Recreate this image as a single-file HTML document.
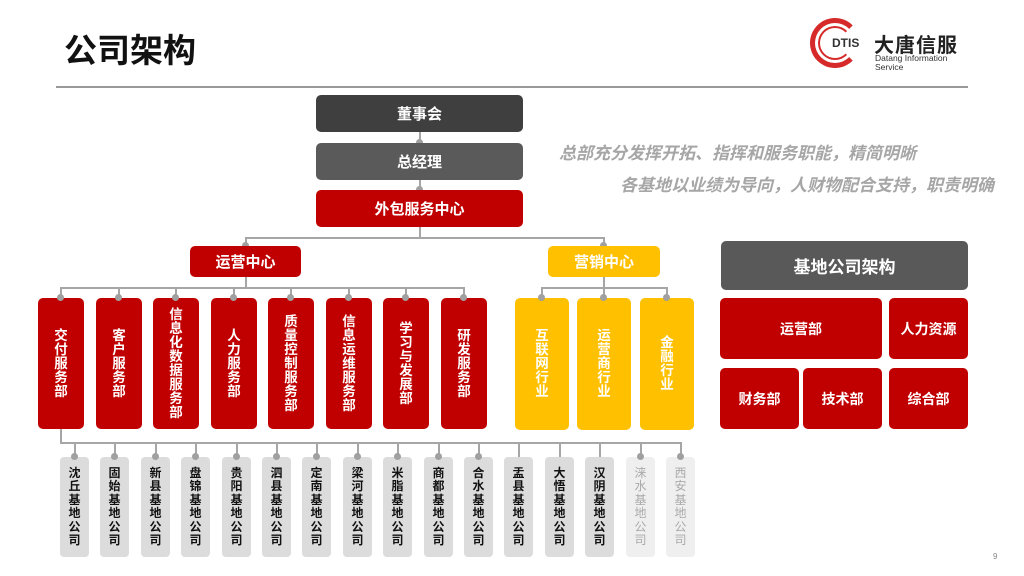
<!DOCTYPE html>
<html><head><meta charset="utf-8"><style>
body{margin:0;width:1024px;height:576px;background:#fff;position:relative;overflow:hidden;font-family:"Liberation Sans","Noto Sans CJK SC",sans-serif}
div{position:absolute;box-sizing:border-box}
.b{display:flex;align-items:center;justify-content:center;color:#fff;font-weight:bold;border-radius:5px;text-align:center}
.v{line-height:14px;font-size:13.5px}
.s{line-height:13.5px;font-size:12px;color:#111;background:#dcdcdc;border-radius:4px;font-weight:bold}
.s.l{background:#efefef;color:#aaa;font-weight:normal}
.h{height:2px;background:#a6a6a6}
.vl{width:2px;background:#a6a6a6}
.d{width:7px;height:7px;border-radius:50%;background:#a0a0a0}
.r{background:#c00000}.y{background:#ffc000}
</style></head><body>
<div style="left:64px;top:31px;font-size:33px;font-weight:bold;color:#111;line-height:40px">公司架构</div>
<div class="h" style="left:56px;top:86px;width:912px;height:1.5px;background:#999"></div>
<!-- logo -->
<div style="left:810px;top:18px;width:50px;height:50px;border-radius:50%;border:5px solid #d62a2a;border-right-color:transparent"></div>
<div style="left:818px;top:26px;width:34px;height:34px;border-radius:50%;border:2px solid #d62a2a;border-right-color:transparent"></div>
<div style="left:832px;top:36px;font-size:12px;font-weight:bold;color:#333">DTIS</div>
<div style="left:874px;top:29px;font-size:20px;font-weight:bold;color:#222;letter-spacing:1px">大唐信服</div>
<div style="left:875px;top:54px;font-size:8.5px;color:#333;line-height:9px">Datang Information<br>Service</div>

<div class="b" style="left:316px;top:95px;width:207px;height:37px;background:#3f3f3f;font-size:15px">董事会</div>
<div class="vl" style="left:419px;top:132px;height:11px"></div>
<div class="d" style="left:416px;top:139px"></div>
<div class="b" style="left:316px;top:143px;width:207px;height:37px;background:#5a5a5a;font-size:15px">总经理</div>
<div class="vl" style="left:419px;top:180px;height:10px"></div>
<div class="d" style="left:416px;top:186px"></div>
<div class="b r" style="left:316px;top:190px;width:207px;height:37px;font-size:15px">外包服务中心</div>
<div class="vl" style="left:419px;top:227px;height:11px"></div>
<div class="h" style="left:245px;top:237px;width:360px"></div>
<div class="vl" style="left:245px;top:237px;height:9px"></div>
<div class="vl" style="left:603px;top:237px;height:9px"></div>
<div class="d" style="left:242px;top:242px"></div>
<div class="d" style="left:600px;top:242px"></div>

<div style="left:540px;top:139px;width:376px;text-align:right;font-size:17px;font-style:italic;font-weight:bold;color:#a6a6a6">总部充分发挥开拓、指挥和服务职能，精简明晰</div>
<div style="left:560px;top:171px;width:434px;text-align:right;font-size:17px;font-style:italic;font-weight:bold;color:#a6a6a6">各基地以业绩为导向，人财物配合支持，职责明确</div>

<div class="b r" style="left:190px;top:246px;width:111px;height:31px;font-size:15px">运营中心</div>
<div class="b y" style="left:548px;top:246px;width:112px;height:31px;font-size:15px">营销中心</div>
<div class="vl" style="left:245px;top:277px;height:11px"></div>
<div class="vl" style="left:603px;top:277px;height:11px"></div>
<div class="h" style="left:60px;top:287px;width:404px"></div>
<div class="h" style="left:541px;top:287px;width:127px"></div>

<div class="b r v" style="left:38px;top:298px;width:46px;height:131px">交<br>付<br>服<br>务<br>部</div>
<div class="b r v" style="left:96px;top:298px;width:46px;height:131px">客<br>户<br>服<br>务<br>部</div>
<div class="b r v" style="left:153px;top:298px;width:46px;height:131px">信<br>息<br>化<br>数<br>据<br>服<br>务<br>部</div>
<div class="b r v" style="left:211px;top:298px;width:46px;height:131px">人<br>力<br>服<br>务<br>部</div>
<div class="b r v" style="left:268px;top:298px;width:46px;height:131px">质<br>量<br>控<br>制<br>服<br>务<br>部</div>
<div class="b r v" style="left:326px;top:298px;width:46px;height:131px">信<br>息<br>运<br>维<br>服<br>务<br>部</div>
<div class="b r v" style="left:383px;top:298px;width:46px;height:131px">学<br>习<br>与<br>发<br>展<br>部</div>
<div class="b r v" style="left:441px;top:298px;width:46px;height:131px">研<br>发<br>服<br>务<br>部</div>
<div class="b y v" style="left:515px;top:298px;width:54px;height:132px">互<br>联<br>网<br>行<br>业</div>
<div class="b y v" style="left:577px;top:298px;width:54px;height:132px">运<br>营<br>商<br>行<br>业</div>
<div class="b y v" style="left:640px;top:298px;width:54px;height:132px">金<br>融<br>行<br>业</div>
<div class="vl" style="left:60px;top:287px;height:11px"></div><div class="d" style="left:57px;top:294px"></div>
<div class="vl" style="left:118px;top:287px;height:11px"></div><div class="d" style="left:115px;top:294px"></div>
<div class="vl" style="left:175px;top:287px;height:11px"></div><div class="d" style="left:172px;top:294px"></div>
<div class="vl" style="left:233px;top:287px;height:11px"></div><div class="d" style="left:230px;top:294px"></div>
<div class="vl" style="left:290px;top:287px;height:11px"></div><div class="d" style="left:287px;top:294px"></div>
<div class="vl" style="left:348px;top:287px;height:11px"></div><div class="d" style="left:345px;top:294px"></div>
<div class="vl" style="left:405px;top:287px;height:11px"></div><div class="d" style="left:402px;top:294px"></div>
<div class="vl" style="left:463px;top:287px;height:11px"></div><div class="d" style="left:460px;top:294px"></div>
<div class="vl" style="left:541px;top:287px;height:11px"></div><div class="d" style="left:538px;top:294px"></div>
<div class="vl" style="left:603px;top:277px;height:21px"></div><div class="d" style="left:600px;top:294px"></div>
<div class="vl" style="left:666px;top:287px;height:11px"></div><div class="d" style="left:663px;top:294px"></div>

<div class="b" style="left:721px;top:241px;width:247px;height:49px;background:#595959;font-size:17px">基地公司架构</div>
<div class="b r" style="left:720px;top:298px;width:162px;height:61px;font-size:14px">运营部</div>
<div class="b r" style="left:889px;top:298px;width:79px;height:61px;font-size:14px">人力资源</div>
<div class="b r" style="left:720px;top:368px;width:79px;height:61px;font-size:14px">财务部</div>
<div class="b r" style="left:803px;top:368px;width:79px;height:61px;font-size:14px">技术部</div>
<div class="b r" style="left:889px;top:368px;width:79px;height:61px;font-size:14px">综合部</div>

<div class="vl" style="left:60px;top:429px;height:15px"></div>
<div class="h" style="left:60px;top:442px;width:621px"></div>

<div class="b s" style="left:60px;top:457px;width:29px;height:100px">沈<br>丘<br>基<br>地<br>公<br>司</div>
<div class="b s" style="left:100px;top:457px;width:29px;height:100px">固<br>始<br>基<br>地<br>公<br>司</div>
<div class="b s" style="left:141px;top:457px;width:29px;height:100px">新<br>县<br>基<br>地<br>公<br>司</div>
<div class="b s" style="left:181px;top:457px;width:29px;height:100px">盘<br>锦<br>基<br>地<br>公<br>司</div>
<div class="b s" style="left:222px;top:457px;width:29px;height:100px">贵<br>阳<br>基<br>地<br>公<br>司</div>
<div class="b s" style="left:262px;top:457px;width:29px;height:100px">泗<br>县<br>基<br>地<br>公<br>司</div>
<div class="b s" style="left:302px;top:457px;width:29px;height:100px">定<br>南<br>基<br>地<br>公<br>司</div>
<div class="b s" style="left:343px;top:457px;width:29px;height:100px">梁<br>河<br>基<br>地<br>公<br>司</div>
<div class="b s" style="left:383px;top:457px;width:29px;height:100px">米<br>脂<br>基<br>地<br>公<br>司</div>
<div class="b s" style="left:424px;top:457px;width:29px;height:100px">商<br>都<br>基<br>地<br>公<br>司</div>
<div class="b s" style="left:464px;top:457px;width:29px;height:100px">合<br>水<br>基<br>地<br>公<br>司</div>
<div class="b s" style="left:504px;top:457px;width:29px;height:100px">盂<br>县<br>基<br>地<br>公<br>司</div>
<div class="b s" style="left:545px;top:457px;width:29px;height:100px">大<br>悟<br>基<br>地<br>公<br>司</div>
<div class="b s" style="left:585px;top:457px;width:29px;height:100px">汉<br>阴<br>基<br>地<br>公<br>司</div>
<div class="b s l" style="left:626px;top:457px;width:29px;height:100px">涞<br>水<br>基<br>地<br>公<br>司</div>
<div class="b s l" style="left:666px;top:457px;width:29px;height:100px">西<br>安<br>基<br>地<br>公<br>司</div>

<div class="vl" style="left:74px;top:442px;height:15px"></div><div class="d" style="left:71px;top:453px"></div>
<div class="vl" style="left:114px;top:442px;height:15px"></div><div class="d" style="left:111px;top:453px"></div>
<div class="vl" style="left:155px;top:442px;height:15px"></div><div class="d" style="left:152px;top:453px"></div>
<div class="vl" style="left:195px;top:442px;height:15px"></div><div class="d" style="left:192px;top:453px"></div>
<div class="vl" style="left:236px;top:442px;height:15px"></div><div class="d" style="left:233px;top:453px"></div>
<div class="vl" style="left:276px;top:442px;height:15px"></div><div class="d" style="left:273px;top:453px"></div>
<div class="vl" style="left:316px;top:442px;height:15px"></div><div class="d" style="left:313px;top:453px"></div>
<div class="vl" style="left:357px;top:442px;height:15px"></div><div class="d" style="left:354px;top:453px"></div>
<div class="vl" style="left:397px;top:442px;height:15px"></div><div class="d" style="left:394px;top:453px"></div>
<div class="vl" style="left:438px;top:442px;height:15px"></div><div class="d" style="left:435px;top:453px"></div>
<div class="vl" style="left:478px;top:442px;height:15px"></div><div class="d" style="left:475px;top:453px"></div>
<div class="vl" style="left:518px;top:442px;height:15px"></div>
<div class="vl" style="left:559px;top:442px;height:15px"></div>
<div class="vl" style="left:599px;top:442px;height:15px"></div>
<div class="vl" style="left:640px;top:442px;height:15px"></div><div class="d" style="left:637px;top:453px"></div>
<div class="vl" style="left:680px;top:442px;height:15px"></div><div class="d" style="left:677px;top:453px"></div>

<div style="left:993px;top:552px;font-size:8px;color:#888">9</div>
</body></html>
